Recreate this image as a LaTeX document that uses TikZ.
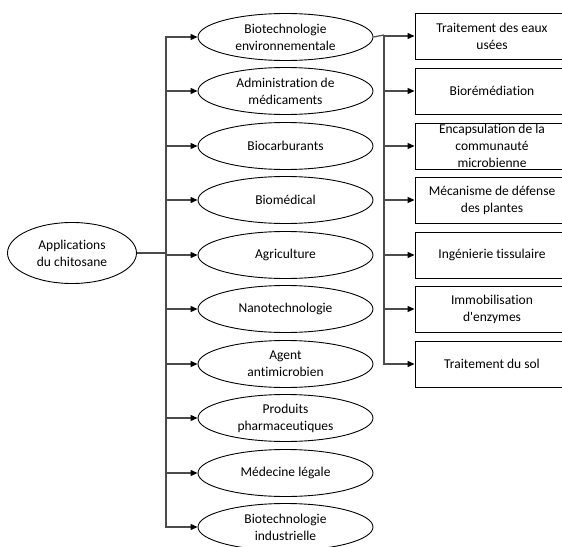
\documentclass[tikz,border=0pt]{standalone}
\usepackage{fontspec}
\setmainfont{Carlito}[Ligatures={NoCommon}]
\usepackage{tikz}
\usetikzlibrary{shapes.geometric,arrows.meta,positioning}
\definecolor{linkGrey}{RGB}{75,75,75}

\begin{document}
\begin{tikzpicture}[x=1pt,y=-1pt,
          appl/.style={ellipse, draw=black, line width=0.9pt,
            minimum width=175pt, minimum height=47pt, inner sep=0pt,
            align=center, font=\fontsize{13.5}{17}\selectfont},
          usage/.style={rectangle, draw=black, line width=0.9pt,
            minimum width=154pt, minimum height=46pt, inner sep=0pt,
            align=center, font=\fontsize{13.5}{17}\selectfont},
          link/.style={draw=linkGrey, line width=1.2pt},
          >={Triangle[length=7pt,width=6pt,color=black]}
        ]
          \clip (0,0) rectangle (562,546);
          % root
          \node[appl, minimum width=129pt, minimum height=61pt] (root) at (72,253) {Applications\\du chitosane};
          \coordinate (lj) at (166,253);
          % applications
          \node[appl] (bioenv) at (285.5,37) {Biotechnologie\\environnementale};
          \node[appl] (admin) at (285.5,91) {Administration de\\médicaments};
          \node[appl] (biocarb) at (285.5,146) {Biocarburants};
          \node[appl] (biomed) at (285.5,200) {Biomédical};
          \node[appl] (agri) at (285.5,255) {Agriculture};
          \node[appl] (nano) at (285.5,309) {Nanotechnologie};
          \node[appl] (antimic) at (285.5,364) {Agent\\antimicrobien};
          \node[appl] (pharma) at (285.5,418) {Produits\\pharmaceutiques};
          \node[appl] (medleg) at (285.5,473) {Médecine légale};
          \node[appl] (bioind) at (285.5,527) {Biotechnologie\\industrielle};
          % environmental uses
          \coordinate (rj) at (384,35);
          \node[usage] (eaux) at (492,36) {Traitement des eaux\\usées};
          \node[usage] (remed) at (492,91) {Biorémédiation};
          \node[usage] (encaps) at (492,146) {Encapsulation de la\\communauté\\microbienne};
          \node[usage] (defense) at (492,200) {Mécanisme de défense\\des plantes};
          \node[usage] (tissu) at (492,255) {Ingénierie tissulaire};
          \node[usage] (enzymes) at (492,309) {Immobilisation\\d\textquotesingle enzymes};
          \node[usage] (sol) at (492,364) {Traitement du sol};
          % connectors
          \draw[link] (root.east) -- (lj);
          \draw[link,->] (lj) |- (bioenv.west);
          \draw[link,->] (lj) |- (admin.west);
          \draw[link,->] (lj) |- (biocarb.west);
          \draw[link,->] (lj) |- (biomed.west);
          \draw[link,->] (lj) |- (agri.west);
          \draw[link,->] (lj) |- (nano.west);
          \draw[link,->] (lj) |- (antimic.west);
          \draw[link,->] (lj) |- (pharma.west);
          \draw[link,->] (lj) |- (medleg.west);
          \draw[link,->] (lj) |- (bioind.west);
          \draw[link] (bioenv.east) -- (rj);
          \draw[link,->] (rj) |- (eaux.west);
          \draw[link,->] (rj) |- (remed.west);
          \draw[link,->] (rj) |- (encaps.west);
          \draw[link,->] (rj) |- (defense.west);
          \draw[link,->] (rj) |- (tissu.west);
          \draw[link,->] (rj) |- (enzymes.west);
          \draw[link,->] (rj) |- (sol.west);
        \end{tikzpicture}
\end{document}
